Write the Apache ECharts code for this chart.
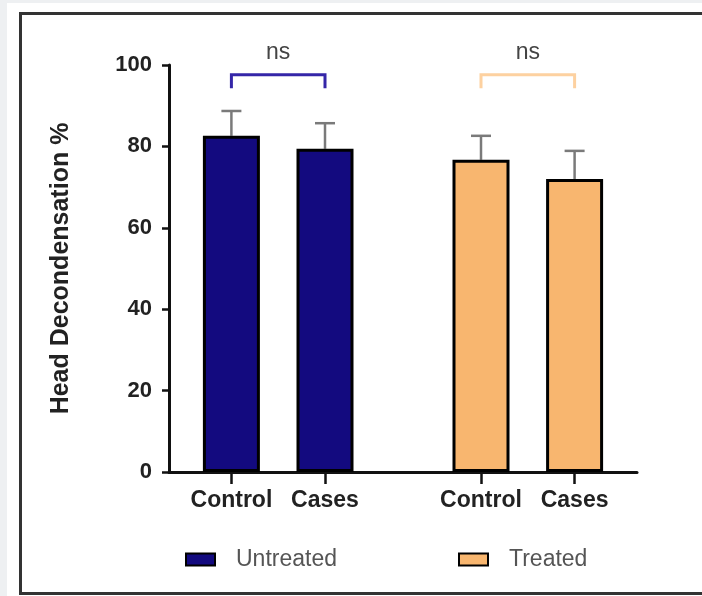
<!DOCTYPE html>
<html>
<head>
<meta charset="utf-8">
<title>Head Decondensation</title>
<script src="https://cdn.jsdelivr.net/npm/echarts@6/dist/echarts.min.js"></script>
<style>
  html, body { margin: 0; padding: 0; background: #eef0f2; }
  #chart { width: 702px; height: 596px; }
</style>
</head>
<body>
<div id="chart"></div>
<script>
// Group / subgroup labels
const groupNames = ['Untreated', 'Treated'];
const subgroups = ['Control', 'Cases'];

// Mean head decondensation (%) and standard deviation per subgroup
const untreatedMean = [82.6, 79.4];
const untreatedSD = [6.1, 6.3];
const treatedMean = [76.7, 72.0];
const treatedSD = [5.9, 6.9];

// Significance labels for Control vs Cases within each group
const comparisons = ['ns', 'ns'];

// Y axis ticks
const yTicks = [0, 20, 40, 60, 80, 100];

// Colours
const untreatedColor = '#130a7f';
const treatedColor = '#f8b66f';
const untreatedBracket = '#3526a8';
const treatedBracket = '#fdd1a0';
const fontFamily = 'Arial, "Liberation Sans", sans-serif';

// Slot layout on the category axis: 16 evenly spaced slots, bars sit on four of them
const SLOT_COUNT = 16;
const groupSlots = [[2, 5], [10, 13]];

const categories = new Array(SLOT_COUNT).fill('');
groupSlots.forEach(slots => slots.forEach((s, i) => { categories[s] = subgroups[i]; }));

function barData(slots, means) {
  const d = new Array(SLOT_COUNT).fill('-');
  slots.forEach((s, i) => { d[s] = means[i]; });
  return d;
}

const errorData = [];
[[untreatedMean, untreatedSD], [treatedMean, treatedSD]].forEach(([m, sd], g) => {
  groupSlots[g].forEach((s, i) => errorData.push([s, m[i], sd[i]]));
});

// Bracket vertical extent (in axis units)
const bracketTop = 97.6;
const bracketFoot = 94.3;

function bracketSeries(g, color) {
  return {
    type: 'custom',
    name: 'bracket' + g,
    silent: true,
    z: 5,
    data: [[groupSlots[g][0], groupSlots[g][1], bracketTop, bracketFoot]],
    renderItem(params, api) {
      const a = api.coord([api.value(0), api.value(2)]);
      const b = api.coord([api.value(1), api.value(2)]);
      const aFoot = api.coord([api.value(0), api.value(3)]);
      const bFoot = api.coord([api.value(1), api.value(3)]);
      return {
        type: 'group',
        children: [
          {
            type: 'polyline',
            shape: { points: [aFoot, a, b, bFoot] },
            style: { stroke: color, lineWidth: 3, fill: null }
          },
          {
            type: 'text',
            style: {
              text: comparisons[g],
              x: (a[0] + b[0]) / 2,
              y: a[1] - 22,
              align: 'center',
              verticalAlign: 'middle',
              fill: '#444',
              font: '23px ' + fontFamily
            }
          }
        ]
      };
    }
  };
}

const legendText = { fontSize: 23, color: '#555', fontFamily, padding: [0, 0, 0, 16] };

const chart = echarts.init(document.getElementById('chart'), null, { renderer: 'canvas' });

chart.setOption({
  backgroundColor: 'transparent',
  animation: false,
  graphic: [
    { type: 'rect', z: -100, silent: true,
      shape: { x: 7, y: 3, width: 800, height: 700 },
      style: { fill: '#ffffff' } },
    { type: 'rect', z: 100, silent: true,
      shape: { x: 20.5, y: 13.5, width: 800, height: 580 },
      style: { fill: null, stroke: '#333333', lineWidth: 3 } }
  ],
  grid: { left: 169, right: 65, top: 65, bottom: 124, containLabel: false },
  legend: [
    {
      data: [groupNames[0]], left: 180, top: 543,
      itemWidth: 29, itemHeight: 12, icon: 'rect', textStyle: legendText
    },
    {
      data: [groupNames[1]], left: 453, top: 543,
      itemWidth: 29, itemHeight: 12, icon: 'rect', textStyle: legendText
    }
  ],
  xAxis: {
    type: 'category',
    data: categories,
    boundaryGap: false,
    axisLine: { lineStyle: { color: '#111', width: 3 } },
    axisTick: {
      show: true, inside: false, length: 12,
      interval: (idx, val) => val !== '',
      lineStyle: { color: '#111', width: 2.5 }
    },
    axisLabel: {
      interval: (idx, val) => val !== '',
      margin: 17, fontSize: 23, fontWeight: 'bold', color: '#222', fontFamily
    },
    splitLine: { show: false }
  },
  yAxis: {
    type: 'value',
    min: yTicks[0], max: yTicks[yTicks.length - 1], interval: yTicks[1] - yTicks[0],
    name: 'Head Decondensation %',
    nameLocation: 'middle', nameGap: 95, nameRotate: 90,
    nameTextStyle: { fontSize: 25, fontWeight: 'bold', color: '#222', fontFamily },
    axisLine: { show: true, lineStyle: { color: '#111', width: 3 } },
    axisTick: { show: true, length: 7, lineStyle: { color: '#111', width: 2.5 } },
    axisLabel: { margin: 17, fontSize: 22, fontWeight: 'bold', color: '#222', fontFamily },
    splitLine: { show: false }
  },
  series: [
    {
      type: 'bar', name: groupNames[0],
      data: barData(groupSlots[0], untreatedMean),
      barWidth: 57, barGap: '-100%', z: 3,
      itemStyle: { color: untreatedColor, borderColor: '#000', borderWidth: 3 }
    },
    {
      type: 'bar', name: groupNames[1],
      data: barData(groupSlots[1], treatedMean),
      barWidth: 57, barGap: '-100%', z: 3,
      itemStyle: { color: treatedColor, borderColor: '#000', borderWidth: 3 }
    },
    {
      type: 'custom', name: 'error', silent: true, z: 2,
      data: errorData,
      renderItem(params, api) {
        const base = api.coord([api.value(0), api.value(1)]);
        const top = api.coord([api.value(0), api.value(1) + api.value(2)]);
        const style = { stroke: '#7a7a7a', lineWidth: 2.5 };
        return {
          type: 'group',
          children: [
            { type: 'line', shape: { x1: base[0], y1: base[1], x2: top[0], y2: top[1] }, style },
            { type: 'line', shape: { x1: top[0] - 10, y1: top[1], x2: top[0] + 10, y2: top[1] }, style }
          ]
        };
      }
    },
    bracketSeries(0, untreatedBracket),
    bracketSeries(1, treatedBracket)
  ]
});
</script>
</body>
</html>
